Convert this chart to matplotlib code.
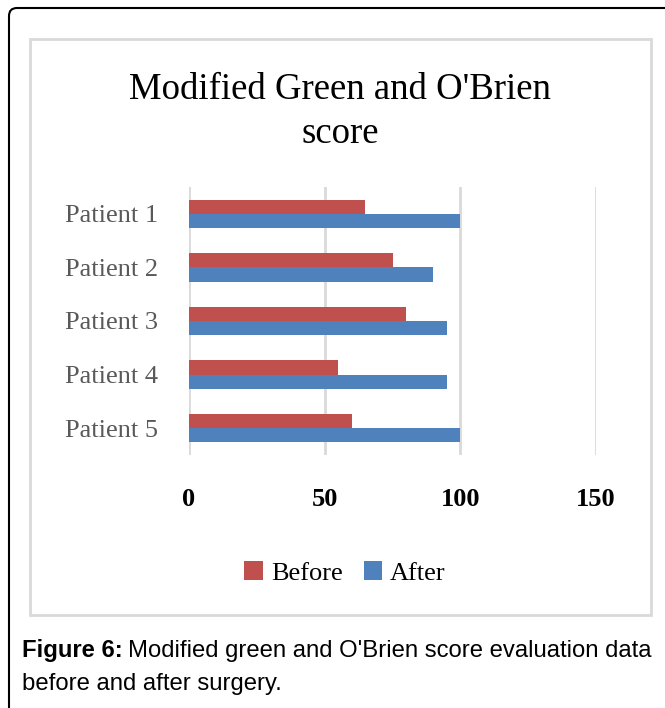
import matplotlib
matplotlib.use("Agg")
import matplotlib.pyplot as plt
import numpy as np
from matplotlib.patches import Rectangle, FancyBboxPatch, Patch
from matplotlib.transforms import IdentityTransform

patients = ["Patient 1", "Patient 2", "Patient 3", "Patient 4", "Patient 5"]
before = [65, 75, 80, 55, 60]
after = [100, 90, 95, 95, 100]
xticks = [0, 50, 100, 150]

red = "#C0504D"
blue = "#4F81BD"
grid_c = "#D9D9D9"
serif = "Liberation Serif"
sans = "Liberation Sans"

W, H = 665, 708
fig = plt.figure(figsize=(W / 100, H / 100), dpi=100)

# plot area in pixels: x 189-596, y 187-455
ax = fig.add_axes([189 / W, 1 - 455 / H, (596 - 189) / W, (455 - 187) / H])
y = np.arange(len(patients))
h = 0.265
ax.barh(y - h / 2, before, height=h, color=red, label="Before", zorder=3)
ax.barh(y + h / 2, after, height=h, color=blue, label="After", zorder=3)
ax.set_ylim(len(patients) - 0.5, -0.5)
ax.set_xlim(0, 150)
ax.set_xticks(xticks)
ax.set_xticklabels([str(t) for t in xticks], fontfamily=serif, fontsize=19,
                   fontweight="bold", color="black")
ax.set_yticks(y)
ax.set_yticklabels(patients, fontfamily=serif, fontsize=19, color="#595959")
ax.tick_params(axis="x", length=0, pad=24)
ax.tick_params(axis="y", length=0, pad=22)
for s in ax.spines.values():
    s.set_visible(False)
ax.xaxis.grid(True, color=grid_c, linewidth=2, zorder=0)
ax.set_axisbelow(True)

# title
fig.text(340 / W, 1 - 112 / H, "Modified Green and O'Brien\nscore", ha="center",
         va="center", fontfamily=serif, fontsize=26.5, linespacing=1.37)

# legend
handles = [Patch(facecolor=red, label="Before"), Patch(facecolor=blue, label="After")]
fig.legend(handles=handles, loc="center", bbox_to_anchor=(345 / W, 1 - 573 / H),
           ncol=2, frameon=False, prop={"family": serif, "size": 19},
           handlelength=0.7, handleheight=0.7, handletextpad=0.3,
           columnspacing=0.8)

# inner chart box
fig.patches.append(Rectangle((30 / W, 1 - 615 / H), 621 / W, 576 / H,
                             transform=fig.transFigure, fill=False,
                             edgecolor=grid_c, linewidth=2))
# outer frame (only top and left visible)
fig.patches.append(FancyBboxPatch((9, -40), 720, H - 8 + 40,
                                  boxstyle="round,pad=0,rounding_size=8",
                                  transform=IdentityTransform(), fill=False,
                                  edgecolor="black", linewidth=1.5))

# caption
t1 = fig.text(22 / W, 1 - 651 / H, "Figure 6:", fontfamily=sans, fontsize=17.2,
              fontweight="bold", va="center")
fig.canvas.draw()
bb = t1.get_window_extent()
fig.text((bb.x1 + 5) / W, 1 - 651 / H,
         "Modified green and O'Brien score evaluation data",
         fontfamily=sans, fontsize=17.2, va="center")
fig.text(22 / W, 1 - 684 / H, "before and after surgery.", fontfamily=sans,
         fontsize=17.2, va="center")

fig.savefig("out.png", dpi=100)
